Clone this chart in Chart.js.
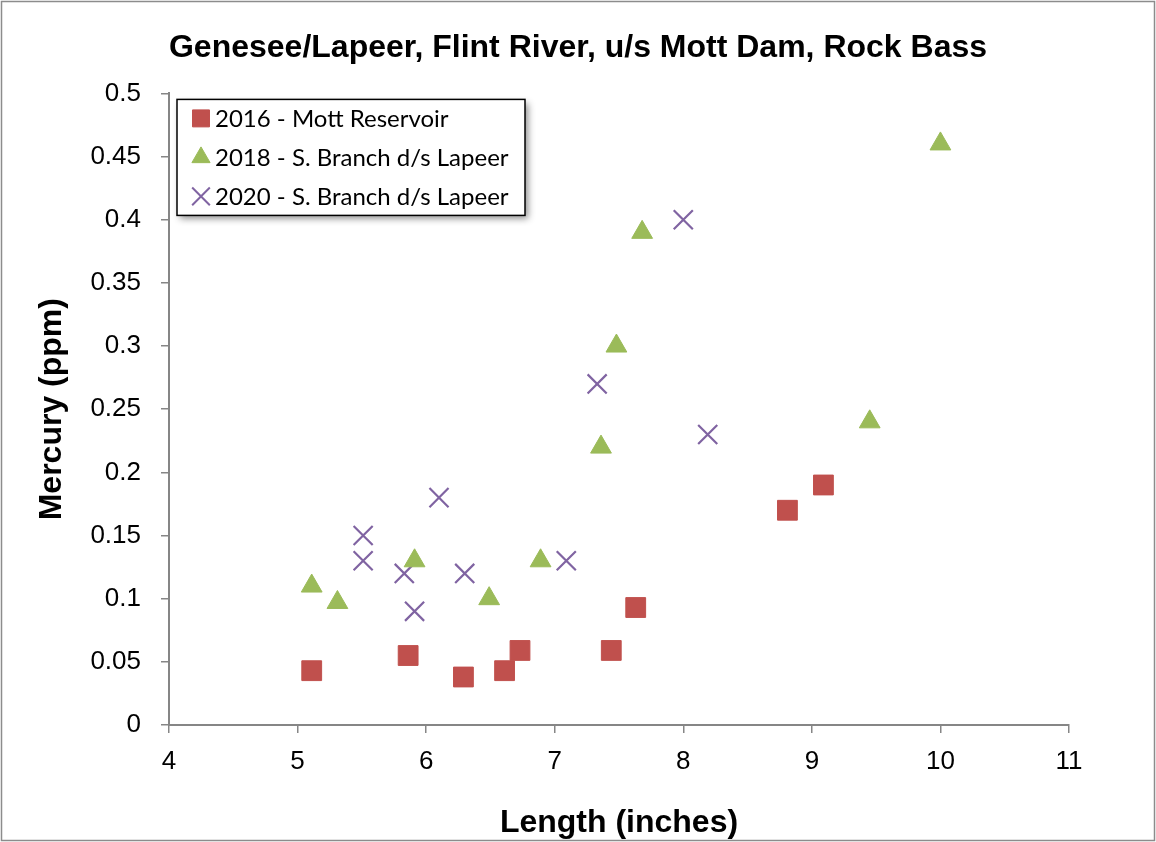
<!DOCTYPE html>
<html>
<head>
<meta charset="utf-8">
<script src="https://cdn.jsdelivr.net/npm/chart.js@4"></script>
<style>
  body { margin: 0; background: #fff; }
</style>
</head>
<body>
<canvas id="myChart" width="1156" height="842"></canvas>
<script>
// values
const seriesNames = ['2016 - Mott Reservoir', '2018 - S. Branch d/s Lapeer', '2020 - S. Branch d/s Lapeer'];

const len2016 = [5.11, 5.86, 6.29, 6.61, 6.73, 7.44, 7.63, 8.81, 9.09];
const hg2016  = [0.043, 0.055, 0.038, 0.043, 0.059, 0.059, 0.093, 0.170, 0.190];

const len2018 = [5.11, 5.31, 5.91, 6.49, 6.89, 7.36, 7.48, 7.68, 9.45, 10.0];
const hg2018  = [0.110, 0.097, 0.130, 0.100, 0.130, 0.220, 0.300, 0.390, 0.240, 0.460];

const len2020 = [5.51, 5.51, 5.83, 5.91, 6.10, 6.30, 7.09, 7.33, 8.0, 8.19];
const hg2020  = [0.150, 0.130, 0.120, 0.090, 0.180, 0.120, 0.130, 0.270, 0.400, 0.230];

const xTicks = [4, 5, 6, 7, 8, 9, 10, 11];
const yTicks = [0, 0.05, 0.1, 0.15, 0.2, 0.25, 0.3, 0.35, 0.4, 0.45, 0.5];

function pts(xs, ys) {
  return xs.map(function (x, i) { return { x: x, y: ys[i] }; });
}

const axisGrey = '#868686';
const fontFam = '"Liberation Sans", Arial, sans-serif';

// white page + thin grey frame round the whole picture
const frame = {
  id: 'frame',
  beforeDraw(chart) {
    const ctx = chart.ctx;
    ctx.save();
    ctx.fillStyle = '#fff';
    ctx.fillRect(0, 0, chart.width, chart.height);
    ctx.strokeStyle = '#8c8c8c';
    ctx.lineWidth = 1.5;
    ctx.strokeRect(1.5, 1.5, chart.width - 3, chart.height - 3);
    ctx.restore();
  }
};

// boxed legend sitting inside the plot, top-left, with a drop shadow
const boxLegend = {
  id: 'boxLegend',
  afterDraw(chart) {
    const ctx = chart.ctx;
    const area = chart.chartArea;
    const bx = area.left + 8, by = area.top + 6, bw = 348, bh = 116;
    ctx.save();
    ctx.shadowColor = 'rgba(0,0,0,0.45)';
    ctx.shadowBlur = 7;
    ctx.shadowOffsetX = 3;
    ctx.shadowOffsetY = 4;
    ctx.fillStyle = '#fff';
    ctx.fillRect(bx, by, bw, bh);
    ctx.restore();

    ctx.save();
    ctx.strokeStyle = '#000';
    ctx.lineWidth = 1.5;
    ctx.strokeRect(bx, by, bw, bh);

    const radii = [12, 10.5, 12.5];
    chart.data.datasets.forEach(function (ds, i) {
      const cy = by + 19 + i * 39;
      const cx = bx + 24;
      ctx.fillStyle = ds.backgroundColor;
      ctx.strokeStyle = ds.borderColor;
      ctx.lineWidth = ds.pointStyle === 'crossRot' ? 2 : 1;
      Chart.helpers.drawPoint(ctx, {
        pointStyle: ds.pointStyle, rotation: 0, radius: radii[i],
        borderWidth: ctx.lineWidth
      }, cx, cy);
      ctx.fillStyle = '#000';
      ctx.font = '24px Lato, "Open Sans", sans-serif';
      ctx.textBaseline = 'middle';
      ctx.textAlign = 'left';
      ctx.fillText(ds.label, bx + 38, cy + 1);
    });
    ctx.restore();
  }
};

const data = {
  datasets: [{
    label: seriesNames[0],
    data: pts(len2016, hg2016),
    pointStyle: 'rect',
    pointRadius: 14,
    pointHoverRadius: 14,
    backgroundColor: '#C0504D',
    borderColor: '#C0504D',
    borderWidth: 1
  }, {
    label: seriesNames[1],
    data: pts(len2018, hg2018),
    pointStyle: 'triangle',
    pointRadius: 12,
    pointHoverRadius: 12,
    backgroundColor: '#9BBB59',
    borderColor: '#9BBB59',
    borderWidth: 1
  }, {
    label: seriesNames[2],
    data: pts(len2020, hg2020),
    pointStyle: 'crossRot',
    pointRadius: 13.5,
    pointHoverRadius: 13.5,
    backgroundColor: '#8064A2',
    borderColor: '#8064A2',
    borderWidth: 2.2
  }]
};

const config = {
  type: 'scatter',
  data: data,
  plugins: [frame, boxLegend],
  options: {
    responsive: false,
    animation: false,
    layout: { padding: { left: 0, right: 0, top: 0, bottom: 0 } },
    plugins: {
      legend: { display: false },
      tooltip: { enabled: false },
      title: {
        display: true,
        text: 'Genesee/Lapeer, Flint River, u/s Mott Dam, Rock Bass',
        color: '#000',
        font: { family: fontFam, size: 32, weight: 'bold', lineHeight: 1.2 },
        padding: { top: 29, bottom: 26 }
      }
    },
    scales: {
      x: {
        type: 'linear',
        min: 4,
        max: 11,
        afterBuildTicks(scale) { scale.ticks = xTicks.map(function (v) { return { value: v }; }); },
        afterFit(scale) { scale.height = 117; },
        ticks: { color: '#000', font: { family: fontFam, size: 26 }, padding: 13, maxRotation: 0 },
        grid: { drawOnChartArea: false, drawTicks: true, tickLength: 8, color: axisGrey, lineWidth: 1.5 },
        border: { color: axisGrey, width: 2 },
        title: {
          display: true,
          text: 'Length (inches)',
          color: '#000',
          font: { family: fontFam, size: 32, weight: 'bold', lineHeight: 1.2 },
          padding: { top: 0, bottom: 0 }
        }
      },
      y: {
        type: 'linear',
        min: 0,
        max: 0.5,
        afterBuildTicks(scale) { scale.ticks = yTicks.map(function (v) { return { value: v }; }); },
        afterFit(scale) { scale.width = 169; },
        ticks: {
          color: '#000', font: { family: fontFam, size: 26 }, padding: 20,
          callback: function (v) { return String(+v.toFixed(2)); }
        },
        grid: { drawOnChartArea: false, drawTicks: true, tickLength: 8, color: axisGrey, lineWidth: 1.5 },
        border: { color: axisGrey, width: 2 },
        title: {
          display: true,
          text: 'Mercury (ppm)',
          color: '#000',
          font: { family: fontFam, size: 32, weight: 'bold', lineHeight: 1.2 },
          padding: { top: 33, bottom: 0 }
        }
      },
      // empty strip on the right so the plot ends at 11 while the title stays centred on the page
      rightGap: {
        type: 'linear',
        position: 'right',
        display: true,
        afterFit(scale) { scale.width = 87; },
        ticks: { display: false },
        grid: { display: false },
        border: { display: false }
      }
    }
  }
};

const myChart = new Chart(document.getElementById('myChart'), config);
</script>
</body>
</html>
